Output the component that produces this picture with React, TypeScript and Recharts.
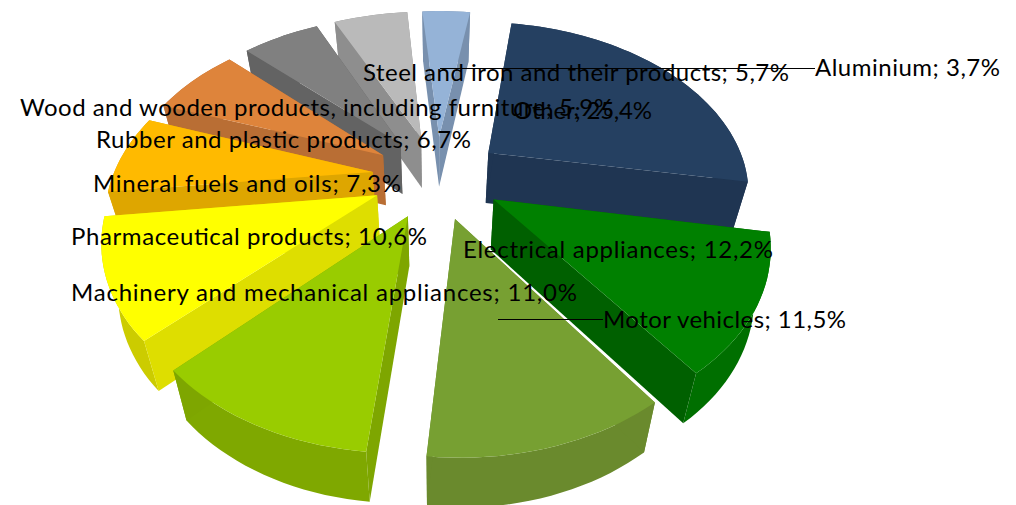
import { PieChart, Pie } from 'recharts'

const categories = [
  'Aluminium',
  'Other',
  'Electrical appliances',
  'Motor vehicles',
  'Machinery and mechanical appliances',
  'Pharmaceutical products',
  'Mineral fuels and oils',
  'Rubber and plastic products',
  'Wood and wooden products, including furniture',
  'Steel and iron and their products',
]
const shares = [3.7, 25.4, 12.2, 11.5, 11.0, 10.6, 7.3, 6.7, 5.9, 5.7]

const topColors = ['#95B3D7', '#254061', '#008000', '#77A032', '#99CC00', '#FFFF00', '#FFBA00', '#DE843B', '#808080', '#BABABA']
const wallColors = ['#7890AE', '#1F3552', '#006000', '#6A8A2D', '#7EA600', '#DEDE00', '#DEA600', '#B96E34', '#636363', '#8E8E8E']
const rimColors = ['#7890AE', '#1F3552', '#006F00', '#6A8A2D', '#7FA800', '#CCCC00', '#DEA600', '#B96E34', '#636363', '#8E8E8E']

// label placement: left x, baseline y, rendered width
const labelLayout = [
  { x: 815, y: 76, w: 185 },
  { x: 513, y: 119, w: 139 },
  { x: 463, y: 258, w: 310 },
  { x: 603, y: 328, w: 243 },
  { x: 71, y: 301, w: 506 },
  { x: 71, y: 245, w: 356 },
  { x: 93, y: 192, w: 308 },
  { x: 96, y: 148, w: 375 },
  { x: 20, y: 116, w: 593 },
  { x: 363, y: 81, w: 426 },
]
// leader lines: only two labels have one
const leaders: Record<string, number[]> = {
  Aluminium: [440, 68.5, 815, 68.5],
  'Motor vehicles': [498, 319.5, 603, 319.5],
}

const pieData = categories.map((name, i) => ({ name, value: shares[i] }))
const reversedData = [...pieData].reverse()
// right side paints clockwise, left side paints counter-clockwise, so nearer slices cover farther ones
const rightSide = categories.slice(0, 4)

const CENTER_X = 437
const CENTER_Y = 176.5
const RADIUS = 260
const START_ANGLE = 94.6
const EXPLODE = 0.25
const PERSPECTIVE = 0.211
const FLATTEN = 0.5
const DEPTH = 50
const BASE_SCALE = 0.95
const RAD = Math.PI / 180

function Slice3D(props: any) {
  const { cx, cy, outerRadius: r, startAngle, endAngle, name, show } = props
  if (!show(name)) return null
  const i = categories.indexOf(name)
  const lo = Math.min(startAngle, endAngle)
  const hi = Math.max(startAngle, endAngle)
  const mid = ((lo + hi) / 2) * RAD
  const ex = Math.cos(mid) * EXPLODE
  const ey = -Math.sin(mid) * EXPLODE

  const project = (u: number, v: number) => {
    const s = 1 / (1 - PERSPECTIVE * v)
    return [cx + r * u * s, (cy + r * FLATTEN * v) * s]
  }
  const lower = (p: number[]) => [cx + (p[0] - cx) * BASE_SCALE, p[1] + DEPTH]
  const path = (pts: number[][]) =>
    'M' + pts.map((p) => `${p[0].toFixed(1)},${p[1].toFixed(1)}`).join('L') + 'Z'

  const rim: number[][] = []
  const steps = Math.max(2, Math.ceil((hi - lo) / 2))
  for (let k = 0; k <= steps; k++) {
    const a = (lo + ((hi - lo) * k) / steps) * RAD
    rim.push(project(ex + Math.cos(a), ey - Math.sin(a)))
  }
  const apex = project(ex, ey)
  const first = rim[0]
  const last = rim[rim.length - 1]

  return (
    <g>
      <path d={path([...rim, ...rim.map(lower).reverse()])} fill={rimColors[i]} />
      <path d={path([first, apex, lower(apex), lower(first)])} fill={wallColors[i]} />
      <path d={path([last, apex, lower(apex), lower(last)])} fill={wallColors[i]} />
      <path d={path([apex, ...rim])} fill={topColors[i]} />
    </g>
  )
}

function renderLabel(props: any) {
  const i = categories.indexOf(props.name)
  const pos = labelLayout[i]
  const text = `${props.name}; ${shares[i].toFixed(1).replace('.', ',')}%`
  const line = leaders[props.name]
  return (
    <g key={props.name}>
      {line && <line x1={line[0]} y1={line[1]} x2={line[2]} y2={line[3]} stroke="#000" strokeWidth={1} />}
      <text
        x={pos.x}
        y={pos.y}
        textLength={pos.w}
        lengthAdjust="spacing"
        fontFamily="Lato"
        fontSize={24}
        fill="#000"
      >
        {text}
      </text>
    </g>
  )
}

export default function App() {
  return (
    <div style={{ position: 'absolute', left: 0, top: 0, width: 1016, height: 505, background: '#fff' }}>
      <PieChart width={1016} height={505} margin={{ top: 0, right: 0, bottom: 0, left: 0 }}>
        <Pie
          data={reversedData}
          dataKey="value"
          nameKey="name"
          cx={CENTER_X}
          cy={CENTER_Y}
          outerRadius={RADIUS}
          startAngle={START_ANGLE}
          endAngle={START_ANGLE + 360}
          stroke="none"
          label={false}
          labelLine={false}
          isAnimationActive={false}
          shape={(p: any) => <Slice3D {...p} show={(n: string) => !rightSide.includes(n)} />}
        />
        <Pie
          data={pieData}
          dataKey="value"
          nameKey="name"
          cx={CENTER_X}
          cy={CENTER_Y}
          outerRadius={RADIUS}
          startAngle={START_ANGLE}
          endAngle={START_ANGLE - 360}
          stroke="none"
          label={renderLabel}
          labelLine={false}
          isAnimationActive={false}
          shape={(p: any) => <Slice3D {...p} show={(n: string) => rightSide.includes(n)} />}
        />
      </PieChart>
    </div>
  )
}
